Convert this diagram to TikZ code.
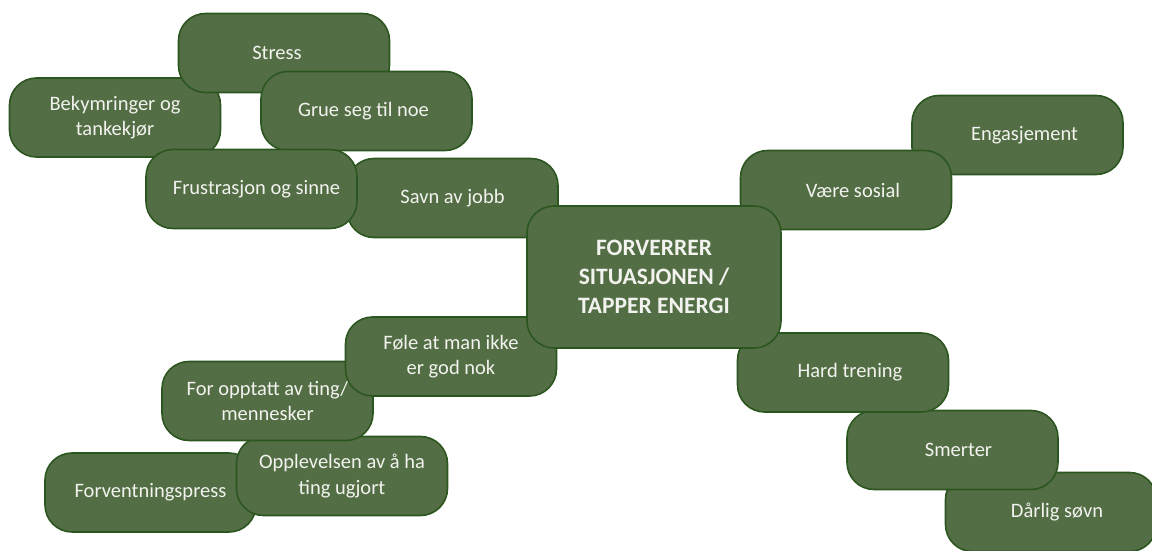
\documentclass[tikz,border=0pt]{standalone}
\usepackage{fontspec}
\setmainfont{Carlito}
\definecolor{boxg}{RGB}{83,110,69}
\definecolor{bord}{RGB}{44,86,32}
\definecolor{txt}{RGB}{242,242,238}
\newcommand{\rs}[2]{\hspace*{#1pt}#2}
\newcommand{\ls}[2]{#2\hspace*{#1pt}}
\tikzset{
  box/.style={draw=bord, fill=boxg, line width=1.6pt, rounded corners=27pt,
    minimum width=211pt, minimum height=79pt, text=txt, align=center,
    font=\fontsize{20.5}{25.5}\selectfont, inner sep=0pt},
  hub/.style={box, minimum width=254pt, minimum height=142pt,
    font=\fontsize{23.5}{29}\selectfont\bfseries}
}
\begin{document}
\begin{tikzpicture}[x=1pt,y=-1pt]
\useasboundingbox (0,0) rectangle (1152,551);
\clip (0,0) rectangle (1152,551);
\node[box] (bek) at (115,117.5) {Bekymringer og\\tankekjør};
\node[box] (stress) at (284,53) {\ls{14}{Stress}};
\node[box] (grue) at (366.5,111) {\ls{6}{Grue seg til noe}};
\node[box] (savn) at (452.5,198) {Savn av jobb};
\node[box] (frust) at (251.5,189) {\rs{10}{Frustrasjon og sinne}};
\node[box] (eng) at (1017.5,135) {\rs{14}{Engasjement}};
\node[box] (vaere) at (846,190) {\rs{14}{Være sosial}};
\node[box] (sovn) at (1051,512) {\rs{12}{Dårlig søvn}};
\node[box] (smerter) at (952.5,450) {\rs{12}{Smerter}};
\node[box] (hard) at (843,372.5) {\rs{14}{Hard trening}};
\node[box] (forv) at (150.5,492.5) {Forventningspress};
\node[box] (oppl) at (342,476) {Opplevelsen av å ha\\ting ugjort};
\node[box] (opptatt) at (267.5,401) {For opptatt av ting/\\mennesker};
\node[box] (fole) at (451,356.5) {Føle at man ikke\\er god nok};
\node[hub] (center) at (654,277) {FORVERRER\\SITUASJONEN /\\TAPPER ENERGI};
\end{tikzpicture}
\end{document}
